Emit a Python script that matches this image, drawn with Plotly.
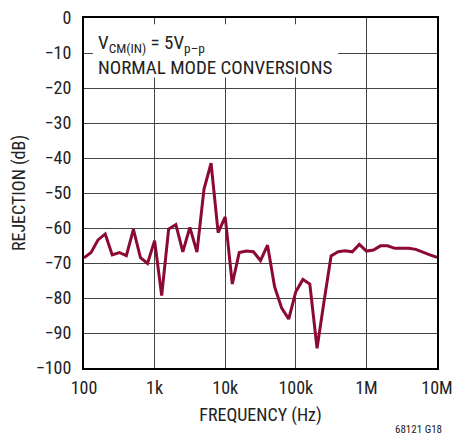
import plotly.graph_objects as go

freq_hz = [100, 126, 158, 200, 251, 316, 398, 501, 631, 794,
           1000, 1260, 1580, 2000, 2510, 3160, 3980, 5010, 6310, 7940,
           10000, 12600, 15800, 20000, 25100, 31600, 39800, 50100, 63100, 79400,
           100000, 126000, 158000, 200000, 251000, 316000, 398000, 501000, 631000, 794000,
           1000000, 1260000, 1580000, 2000000, 2510000, 3160000, 3980000, 5010000, 6310000, 7940000,
           10000000]
rejection_db = [-68.5, -67.0, -63.4, -61.7, -67.7, -67.0, -67.9, -60.4, -68.5, -70.1,
                -63.6, -79.3, -60.3, -59.0, -66.8, -59.8, -66.9, -48.9, -41.5, -61.3,
                -56.8, -76.0, -67.0, -66.6, -66.8, -69.3, -64.9, -76.8, -82.9, -86.0,
                -78.2, -74.7, -76.0, -94.4, -81.0, -68.0, -66.8, -66.5, -66.8, -64.7,
                -66.6, -66.3, -65.1, -65.1, -65.8, -65.8, -65.8, -66.1, -67.0, -67.7,
                -68.4]

x_tickvals = [100, 1000, 10000, 100000, 1000000, 10000000]
x_ticktext = ["100", "1k", "10k", "100k", "1M", "10M"]
y_tickvals = [0, -10, -20, -30, -40, -50, -60, -70, -80, -90, -100]
y_ticktext = ["0", "−10", "−20", "−30", "−40", "−50", "−60", "−70", "−80", "−90", "−100"]

FONT = "Liberation Sans Narrow, Arial Narrow, Roboto Condensed, Liberation Sans, sans-serif"

fig = go.Figure()
fig.add_trace(go.Scatter(x=freq_hz, y=rejection_db, mode="lines",
                         line=dict(color="#8C0A32", width=3), showlegend=False))

fig.update_layout(
    width=460, height=428,
    margin=dict(l=76, r=31, t=10, b=68, autoexpand=False),
    paper_bgcolor="white", plot_bgcolor="white",
    font=dict(family=FONT, size=18, color="#222222"),
    xaxis=dict(type="log", range=[2, 7], tickvals=x_tickvals, ticktext=x_ticktext,
               showgrid=True, gridcolor="#444444", gridwidth=1,
               showline=True, linecolor="black", linewidth=2, mirror=True,
               ticks="", zeroline=False, ticklabelstandoff=2, ticklabeloverflow="allow",
               title=dict(text="FREQUENCY (Hz)", standoff=12, font=dict(size=18))),
    yaxis=dict(range=[-100, 0], tickvals=y_tickvals, ticktext=y_ticktext,
               showgrid=True, gridcolor="#444444", gridwidth=1,
               showline=True, linecolor="black", linewidth=2, mirror=True,
               ticks="", zeroline=False, ticklabelstandoff=7, ticklabeloverflow="allow",
               title=dict(text="REJECTION (dB)", standoff=8, font=dict(size=18))),
)

fig.add_shape(type="rect", xref="paper", yref="paper",
              x0=0.025, x1=0.72, y0=0.83, y1=0.982,
              fillcolor="white", line=dict(width=0), layer="above")

fig.add_annotation(xref="paper", yref="paper", x=0.035, y=0.968,
                   xanchor="left", yanchor="top", align="left", showarrow=False,
                   text="V<sub>CM(IN)</sub> = 5V<sub>p–p</sub><br>NORMAL MODE CONVERSIONS",
                   font=dict(size=19, color="#222222"))

fig.add_annotation(xref="paper", yref="paper", x=1.02, y=-0.177,
                   xanchor="right", yanchor="middle", showarrow=False,
                   text="68121 G18", font=dict(size=11, color="#222222"))

fig.write_html("out.html")
